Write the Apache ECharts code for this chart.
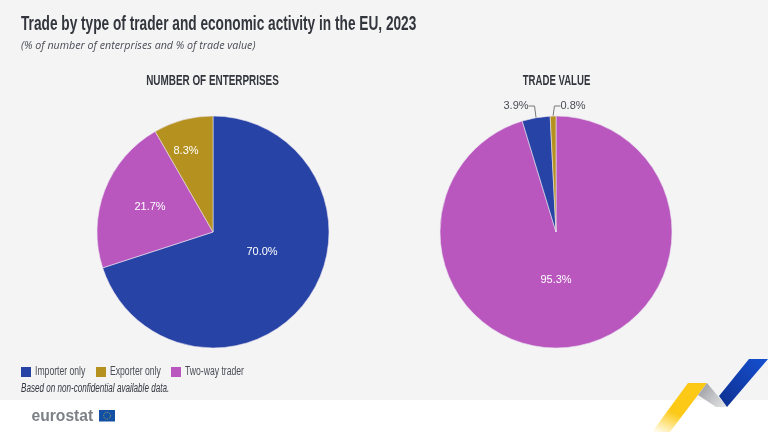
<!DOCTYPE html>
<html><head><meta charset="utf-8">
<style>html,body{margin:0;padding:0;background:#f4f4f5}#c{width:768px;height:432px}</style>
<script src="https://cdn.jsdelivr.net/npm/echarts@6/dist/echarts.min.js"></script>
</head><body><div id="c"></div>
<script>
const categories = ['Importer only', 'Exporter only', 'Two-way trader'];
const enterprises = [70.0, 8.3, 21.7];
const tradeValue = [3.9, 0.8, 95.3];
const colors = ['#2643a5', '#b5921f', '#b957bf'];
const enterpriseOrder = [0, 2, 1];
const tradeOrder = [2, 0, 1];
const titleText = 'Trade by type of trader and economic activity in the EU, 2023';
const subtitleText = '(% of number of enterprises and % of trade value)';
const noteText = 'Based on non-confidential available data.';
const pieTitles = ['NUMBER OF ENTERPRISES', 'TRADE VALUE'];

const SANS = '"Liberation Sans",sans-serif';
const ink = '#33363d';
function slices(values, order) {
  return order.map(i => ({ name: categories[i], value: values[i], itemStyle: { color: colors[i] } }));
}
const leftPos = { 'Importer only': [262, 252], 'Two-way trader': [150, 207], 'Exporter only': [186, 151] };
const rightPos = { 'Importer only': [516, 106], 'Two-way trader': [556, 280], 'Exporter only': [573, 106] };

function pie(center, data, pos, name) {
  return {
    type: 'pie', name, center, radius: [0, 116], startAngle: 90, clockwise: true,
    silent: true, animation: false, data,
    itemStyle: { borderColor: '#e9e3ee', borderWidth: 0.6 },
    label: {
      show: true, position: 'inside', color: '#fff',
      fontFamily: SANS, fontSize: 11,
      formatter: p => p.value.toFixed(1) + '%'
    },
    labelLine: { show: true, length: 8, length2: 6, smooth: false, lineStyle: { color: '#777', width: 1 } },
    labelLayout: p => {
      const c = pos[data[p.dataIndex].name];
      return { x: c[0], y: c[1], align: 'center', verticalAlign: 'middle' };
    }
  };
}
const rightData = slices(tradeValue, tradeOrder);
['Importer only', 'Exporter only'].forEach(n => {
  rightData.find(x => x.name === n).label = { position: 'outside', color: '#4a4d55' };
});

// Condensed text: no narrow font is installed, so text is squeezed horizontally.
function squeezed(text, x, y, font, fill, scaleX, align) {
  return { type: 'text', silent: true, x, y, scaleX, scaleY: 1,
    style: { text, font, fill, align: align || 'left', verticalAlign: 'middle' } };
}
const legendX = [21, 96, 171];
const legendItems = [];
categories.forEach((c, i) => {
  legendItems.push({ type: 'rect', silent: true, shape: { x: legendX[i], y: 367, width: 10, height: 10 }, style: { fill: colors[i] } });
  legendItems.push(squeezed(c, legendX[i] + 14, 372, '12.5px ' + SANS, '#4a4d55', 0.69));
});

const chart = echarts.init(document.getElementById('c'), null, { renderer: 'canvas' });
chart.setOption({
  backgroundColor: '#f4f4f5',
  animation: false,
  series: [
    pie([213, 232], slices(enterprises, enterpriseOrder), leftPos, pieTitles[0]),
    pie([556, 232], rightData, rightPos, pieTitles[1])
  ],
  graphic: [
    { type: 'rect', z: -1, silent: true, shape: { x: 0, y: 400, width: 768, height: 32 }, style: { fill: '#fff' } },
    squeezed(titleText, 21, 24.5, 'bold 20px ' + SANS, ink, 0.684),
    { type: 'text', silent: true, x: 21, y: 46, style: { text: subtitleText, font: 'italic 10.7px "Open Sans",sans-serif', fill: '#4a4d55', verticalAlign: 'middle' } },
    squeezed(pieTitles[0], 212.5, 81, 'bold 15px ' + SANS, ink, 0.66, 'center'),
    squeezed(pieTitles[1], 556.5, 81, 'bold 15px ' + SANS, ink, 0.64, 'center'),
    ...legendItems,
    squeezed(noteText, 21, 389, 'italic 12px ' + SANS, ink, 0.675),
    { type: 'polygon', silent: true, shape: { points: [[652, 432], [688, 383], [707, 383], [670, 432]] },
      style: { fill: new echarts.graphic.LinearGradient(0, 1, 0.4, 0, [{ offset: 0, color: 'rgba(255,204,20,0)' }, { offset: 0.5, color: '#fcc917' }, { offset: 1, color: '#fcc917' }]) } },
    { type: 'polygon', silent: true, shape: { points: [[698, 395], [707, 383], [727, 407], [716, 407]] },
      style: { fill: new echarts.graphic.LinearGradient(0, 0, 1, 1, [{ offset: 0, color: '#96989e' }, { offset: 1, color: '#e6e7e8' }]) } },
    { type: 'polygon', silent: true, shape: { points: [[719, 396], [749, 359], [768, 359], [727, 407]] },
      style: { fill: new echarts.graphic.LinearGradient(0, 1, 1, 0, [{ offset: 0, color: '#0e2f8f' }, { offset: 1, color: '#1550d0' }]) } },
    squeezed('eurostat', 31.5, 416, 'bold 17px ' + SANS, '#7d8087', 0.92),
    { type: 'rect', silent: true, shape: { x: 99, y: 410, width: 16, height: 11.5 }, style: { fill: '#1150a5' } },
    { type: 'circle', silent: true, shape: { cx: 107, cy: 415.7, r: 3.4 }, style: { fill: 'none', stroke: '#c9b43a', lineWidth: 0.8, lineDash: [1, 1] } }
  ]
});
</script></body></html>
